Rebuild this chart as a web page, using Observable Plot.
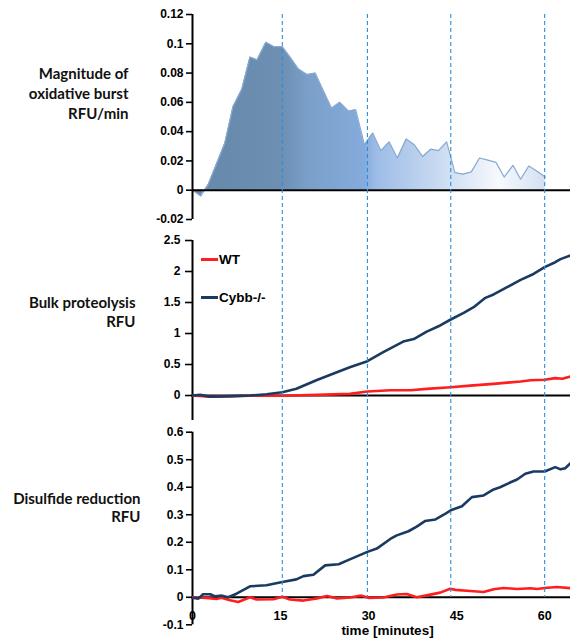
<!DOCTYPE html>
<html><head><meta charset="utf-8">
<script src="https://cdn.jsdelivr.net/npm/d3@7"></script>
<script src="https://cdn.jsdelivr.net/npm/@observablehq/plot@0.6"></script>
<style>
body{margin:0;background:#fff;}
#chart{position:relative;width:570px;height:644px;background:#fff;}
#chart > svg{display:block;}
#overlay{position:absolute;left:0;top:0;pointer-events:none;}
.leg{position:absolute;left:201px;display:flex;align-items:center;font:bold 13.5px "Liberation Sans",Arial,sans-serif;color:#000;}
.leg span.sw{display:inline-block;width:17px;height:3px;margin-right:1px;}
</style></head><body><div id="chart"></div>
<script>
// ---- data ----
const panelTitles = ["Magnitude of\noxidative burst\nRFU/min", "Bulk proteolysis\nRFU", "Disulfide reduction\nRFU"];
const seriesNames = ["WT", "Cybb-/-"];
const xTicks = [0, 15, 30, 45, 60];
const xTitle = "time [minutes]";
const markerTimes = [15.3, 29.8, 44.0, 60.0];

const burstTicks = [-0.02, 0, 0.02, 0.04, 0.06, 0.08, 0.1, 0.12];
const burstTime = [0,1.4,2.7,5.5,6.9,8.4,9.8,11.0,12.5,13.9,15.3,16.6,18.0,19.5,20.9,22.3,23.7,25.1,26.6,27.8,29.3,30.7,32.1,33.5,34.9,36.4,37.8,39.2,40.6,41.9,43.3,44.7,46.1,47.5,48.9,50.3,51.7,53.1,54.6,55.9,57.3,58.7,60.1];
const burstValue = [0,-0.004,0.004,0.032,0.057,0.069,0.091,0.089,0.101,0.098,0.098,0.091,0.083,0.079,0.080,0.068,0.056,0.060,0.054,0.055,0.031,0.039,0.027,0.033,0.022,0.035,0.031,0.023,0.028,0.027,0.033,0.012,0.011,0.0125,0.022,0.0205,0.019,0.009,0.017,0.0075,0.0165,0.013,0.009];

const protTicks = [0, 0.5, 1, 1.5, 2, 2.5];
const protCybbTime = [0,1.3,3.0,7.0,9.8,12.6,15.3,17.7,21.2,24.6,26.8,29.8,32.5,35.9,37.7,39.9,42.2,44.0,46.2,47.9,49.9,51.3,53.6,55.9,58.1,60.0,61.8,62.7,64.4];
const protCybbValue = [0,0.01,-0.02,-0.01,0,0.02,0.054,0.11,0.25,0.376,0.457,0.554,0.70,0.87,0.91,1.03,1.13,1.226,1.333,1.425,1.575,1.63,1.747,1.866,1.96,2.07,2.15,2.2,2.26];
const protWTTime = [0,3.0,9.8,15.3,21.2,26.8,29.8,33.7,37.1,39.9,44.0,47.3,51.3,55.9,57.6,60.0,61.8,63.0,64.4];
const protWTValue = [0,-0.02,-0.005,-0.005,0.01,0.027,0.065,0.086,0.086,0.107,0.134,0.16,0.188,0.226,0.247,0.253,0.28,0.27,0.306];

const disTicks = [-0.1, 0, 0.1, 0.2, 0.3, 0.4, 0.5, 0.6];
const disCybbTime = [0,1.0,1.8,3.0,3.8,5.0,6.1,7.5,9.8,12.6,15.3,17.7,18.9,20.6,22.6,24.9,26.8,29.8,31.4,33.7,34.8,36.8,38.2,39.6,41.4,42.8,44.0,45.9,47.6,49.6,51.3,52.4,54.2,55.3,56.7,58.1,60.0,61.8,62.7,63.5,64.4];
const disCybbValue = [-0.002,-0.005,0.011,0.011,0.004,0.006,0,0.013,0.040,0.0435,0.0556,0.065,0.077,0.082,0.116,0.12,0.138,0.165,0.177,0.212,0.225,0.24,0.257,0.277,0.283,0.30,0.316,0.331,0.364,0.37,0.392,0.40,0.418,0.428,0.449,0.457,0.457,0.473,0.465,0.469,0.487];
const disWTTime = [0,2.4,4.1,4.9,6.4,7.8,9.8,10.9,13.8,15.3,16.6,18.9,21.2,22.9,24.6,26.8,28.8,30.0,32.5,34.8,36.5,38.2,39.9,42.2,43.9,44.8,47.3,49.6,51.3,53.0,55.3,57.6,58.7,60.0,62.1,64.4];
const disWTValue = [0,-0.002,-0.006,-0.002,-0.011,-0.017,0,-0.008,-0.007,0.002,-0.008,-0.012,-0.004,0.005,-0.004,-0.001,0.006,-0.002,-0.001,0.010,0.012,0,0.007,0.017,0.031,0.027,0.023,0.019,0.029,0.034,0.030,0.033,0.030,0.034,0.0375,0.033];

// ---- build ----
const zip = (t, v) => t.map((d, i) => ({t: d, v: v[i]}));
const burst = zip(burstTime, burstValue);
const protWT = zip(protWTTime, protWTValue), protCybb = zip(protCybbTime, protCybbValue);
const disWT = zip(disWTTime, disWTValue), disCybb = zip(disCybbTime, disCybbValue);

const W = 570, ML = 192;
const xDomain = [0, 64.4];
const RED = "#ff1e1e", NAVY = "#1b3a62";
const fmt = d => String(d);
const baseStyle = {fontFamily: "'Liberation Sans', Arial, sans-serif", fontSize: "12px", fontWeight: "bold", color: "#000", background: "transparent", overflow: "visible"};
const titleOpts = {fontFamily: "Lato", fontSize: 15, fontWeight: "bold", textAnchor: "end", frameAnchor: "top-left", lineAnchor: "middle", fill: "#111"};

function gradientDefs() {
  const ns = "http://www.w3.org/2000/svg";
  const defs = document.createElementNS(ns, "defs");
  const g = document.createElementNS(ns, "linearGradient");
  g.setAttribute("id", "burstGrad");
  g.setAttribute("x1", "0"); g.setAttribute("x2", "1");
  g.setAttribute("y1", "0"); g.setAttribute("y2", "0");
  const stops = [[0, "#6688aa"], [0.25, "#6c8fb2"], [0.33, "#7aa0c9"], [0.49, "#84abdc"], [0.52, "#9cbce6"], [0.62, "#b5cdec"], [0.75, "#d6e3f5"], [0.87, "#f7f9fd"], [1, "#d3e0f2"]];
  for (const [o, c] of stops) {
    const s = document.createElementNS(ns, "stop");
    s.setAttribute("offset", o); s.setAttribute("stop-color", c);
    g.appendChild(s);
  }
  defs.appendChild(g);
  return defs;
}

const axisCommon = {tickFormat: fmt, label: null, strokeWidth: 1.6, fontWeight: "bold"};

const topPlot = Plot.plot({
  width: W, height: 228, marginLeft: ML, marginRight: 0, marginTop: 14, marginBottom: 9,
  style: baseStyle,
  x: {domain: xDomain, axis: null},
  y: {domain: [-0.02, 0.12]},
  marks: [
    gradientDefs,
    Plot.areaY(burst, {x: "t", y: "v", fill: "url(#burstGrad)"}),
    Plot.lineY(burst, {x: "t", y: "v", stroke: "#88a9cf", strokeWidth: 1.2}),
    Plot.ruleY([0], {stroke: "#000", strokeWidth: 2}),
    Plot.ruleX([0], {stroke: "#000", strokeWidth: 2}),
    Plot.axisY(burstTicks, {...axisCommon, tickSize: 6, tickPadding: 3}),
    Plot.text([panelTitles[0]], {...titleOpts, text: d => d, dx: -64, dy: 78, lineHeight: 1.34})
  ]
});

const midPlot = Plot.plot({
  width: W, height: 192, marginLeft: ML, marginRight: 0, marginTop: 12, marginBottom: 0,
  style: baseStyle,
  x: {domain: xDomain, axis: null},
  y: {domain: [-0.403, 2.5]},
  marks: [
    Plot.ruleY([0], {stroke: "#000", strokeWidth: 2}),
    Plot.ruleX([0], {stroke: "#000", strokeWidth: 2}),
    Plot.lineY(protWT, {x: "t", y: "v", stroke: RED, strokeWidth: 2.6}),
    Plot.lineY(protCybb, {x: "t", y: "v", stroke: NAVY, strokeWidth: 2.6}),
    Plot.axisY(protTicks, {...axisCommon, tickSize: 7, tickPadding: 5}),
    Plot.text([panelTitles[1]], {...titleOpts, text: d => d, dx: -57, dy: 311 - 228 - 12, lineHeight: 1.22})
  ]
});

const botPlot = Plot.plot({
  width: W, height: 224, marginLeft: ML, marginRight: 0, marginTop: 11.7, marginBottom: 19.7,
  style: baseStyle,
  x: {domain: xDomain, axis: null},
  y: {domain: [-0.1, 0.6]},
  marks: [
    Plot.ruleY([0], {stroke: "#000", strokeWidth: 2}),
    Plot.ruleX([0], {stroke: "#000", strokeWidth: 2}),
    Plot.lineY(disWT, {x: "t", y: "v", stroke: RED, strokeWidth: 2.6}),
    Plot.lineY(disCybb, {x: "t", y: "v", stroke: NAVY, strokeWidth: 2.6}),
    Plot.axisY(disTicks, {...axisCommon, tickSize: 6, tickPadding: 3}),
    Plot.text(xTicks, {x: d => d, y: 0, dy: 18.5, text: fmt, fontSize: 12.5, fontWeight: "bold"}),
    Plot.text([xTitle], {text: d => d, frameAnchor: "bottom", dx: 6, dy: 10.5, fontSize: 13.5, fontWeight: "bold"}),
    Plot.text([panelTitles[2]], {...titleOpts, text: d => d, dx: -52, dy: 507 - 420 - 11.7, lineHeight: 1.18})
  ]
});

const overlay = Plot.plot({
  width: W, height: 644, marginLeft: ML, marginRight: 0, marginTop: 14, marginBottom: 47,
  style: {background: "transparent"},
  x: {domain: xDomain, axis: null},
  marks: [
    Plot.ruleX(markerTimes, {x: d => d, stroke: "#2a8fd8", strokeWidth: 1.1, strokeDasharray: "4,3"})
  ]
});
overlay.setAttribute("id", "overlay");

const chart = document.getElementById("chart");
chart.append(topPlot, midPlot, botPlot, overlay);

// legend
const legendColors = [RED, NAVY];
const legendCenters = [259, 297];
seriesNames.forEach((name, i) => {
  const item = document.createElement("div");
  item.className = "leg";
  item.style.top = (legendCenters[i] - 8) + "px";
  item.style.height = "16px";
  const sw = document.createElement("span");
  sw.className = "sw"; sw.style.background = legendColors[i];
  const tx = document.createElement("span");
  tx.textContent = name;
  item.append(sw, tx);
  chart.append(item);
});
</script>
</body></html>
